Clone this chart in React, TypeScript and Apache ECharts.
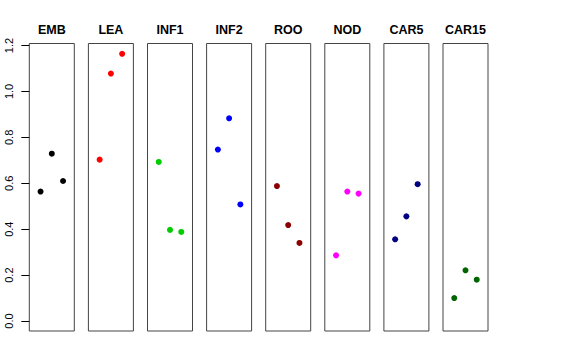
import React, { useEffect, useRef } from "react";
import * as echarts from "echarts";

const categories = ["EMB", "LEA", "INF1", "INF2", "ROO", "NOD", "CAR5", "CAR15"];
const colors = ["#000000", "#FF0000", "#00CD00", "#0000FF", "#8B0000", "#FF00FF", "#000080", "#006400"];
const embValues = [0.564, 0.729, 0.61];
const leaValues = [0.703, 1.078, 1.164];
const inf1Values = [0.693, 0.397, 0.388];
const inf2Values = [0.747, 0.883, 0.508];
const rooValues = [0.588, 0.418, 0.34];
const nodValues = [0.286, 0.564, 0.555];
const car5Values = [0.356, 0.456, 0.596];
const car15Values = [0.1, 0.221, 0.18];
const seriesValues = [embValues, leaValues, inf1Values, inf2Values, rooValues, nodValues, car5Values, car15Values];
const yTicks = [0, 0.2, 0.4, 0.6, 0.8, 1.0, 1.2];

export default function App() {
  const ref = useRef<HTMLDivElement>(null);
  useEffect(() => {
    if (!ref.current) return;
    const chart = echarts.init(ref.current, null, { renderer: "svg" });
    const left0 = 29.3;
    const step = 59.1;
    const w = 45;
    const top = 43.5;
    const h = 287.5;
    const font = "Liberation Sans, Arial, Helvetica, sans-serif";
    const grids = categories.map((_, i) => ({
      left: left0 + i * step,
      top,
      width: w,
      height: h,
      show: true,
      borderColor: "#444",
      borderWidth: 1,
      backgroundColor: "transparent",
    }));
    const xAxes = categories.map((_, i) => ({
      type: "value",
      gridIndex: i,
      min: 0,
      max: 4,
      show: false,
    }));
    const yAxes = categories.map((_, i) => ({
      type: "value",
      gridIndex: i,
      min: -0.0435,
      max: 1.209,
      show: i === 0,
      splitLine: { show: false },
      axisLine: { show: false },
      axisTick: {
        show: i === 0,
        length: 8,
        customValues: yTicks,
        lineStyle: { color: "#000", width: 1 },
      },
      axisLabel: {
        show: i === 0,
        customValues: yTicks,
        rotate: 90,
        margin: 15,
        fontSize: 11,
        color: "#000",
        fontFamily: font,
        formatter: (v: number) => v.toFixed(1),
      },
    }));
    const series = categories.map((_, i) => ({
      type: "scatter",
      xAxisIndex: i,
      yAxisIndex: i,
      symbol: "circle",
      symbolSize: 6,
      itemStyle: { color: colors[i], opacity: 1 },
      emphasis: { disabled: true },
      data: seriesValues[i].map((v, j) => [j + 1, v]),
    }));
    const titles = categories.map((c, i) => ({
      type: "text",
      x: left0 + i * step + w / 2,
      y: 30,
      style: {
        text: c,
        textAlign: "center",
        textVerticalAlign: "middle",
        fontSize: 12.5,
        fontWeight: "bold",
        fontFamily: font,
        fill: "#000",
      },
    }));
    chart.setOption({
      animation: false,
      backgroundColor: "#fff",
      grid: grids,
      xAxis: xAxes,
      yAxis: yAxes,
      series,
      graphic: titles,
    });
    return () => chart.dispose();
  }, []);
  return (
    <div
      ref={ref}
      style={{ position: "fixed", left: 0, top: 0, width: 576, height: 360 }}
    />
  );
}
